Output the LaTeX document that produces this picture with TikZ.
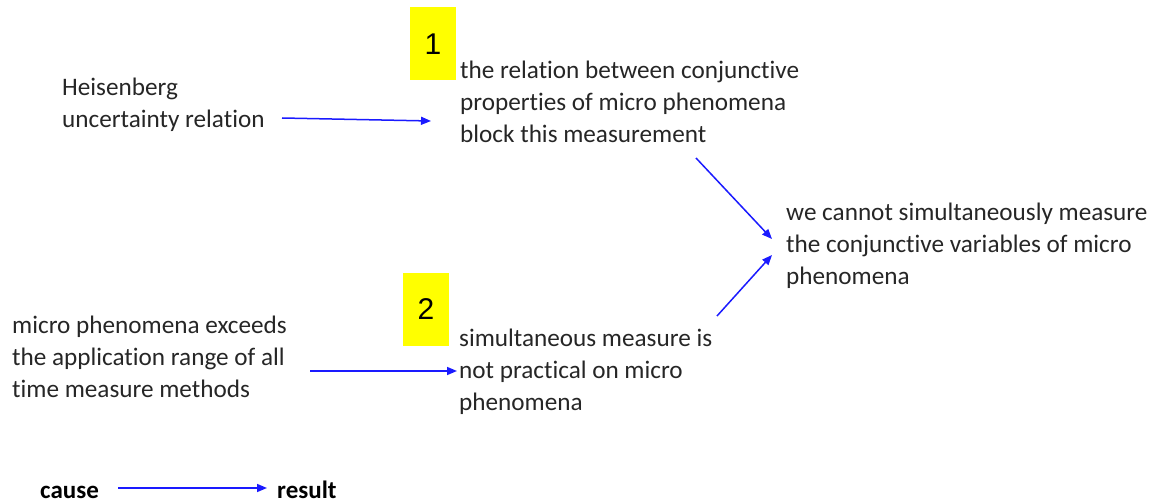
\documentclass[tikz,border=0pt]{standalone}
\usepackage{fontspec}
\setmainfont[Ligatures=CommonOff]{Carlito}
\newfontfamily\numfont{Liberation Sans}
\usetikzlibrary{arrows.meta}
\definecolor{txt}{HTML}{262626}
\definecolor{arrblue}{HTML}{1A1AFF}
\definecolor{hl}{HTML}{FFFF00}
\tikzset{
  lbl/.style={anchor=base west, inner sep=0pt, align=left, text=txt,
    font=\fontsize{25.2}{32}\selectfont},
  legend/.style={anchor=base west, inner sep=0pt, text=black,
    font=\fontsize{25}{30}\selectfont\bfseries},
  numbox/.style={fill=hl, minimum width=46pt, minimum height=73pt, inner sep=0pt,
    font=\fontsize{30}{30}\numfont, text=black},
  arr/.style={draw=arrblue, line width=1.5pt, -{Triangle[length=10pt,width=8pt]}}
}
\begin{document}
\begin{tikzpicture}[x=1pt,y=-1pt]
\useasboundingbox (0,0) rectangle (1159,502);
% highlighted numbers
\node[numbox] (b1) at (433,44) {1};
\node[numbox] (b2) at (426,309.5) {2};
% text blocks (base anchor = baseline of last line)
\node[lbl] (heis) at (62,128) {Heisenberg\\uncertainty relation};
\node[lbl] (rel) at (460,143) {the relation between conjunctive\\properties of micro phenomena\\block this measurement};
\node[lbl] (res) at (786,285) {we cannot simultaneously measure\\the conjunctive variables of micro\\phenomena};
\node[lbl] (exc) at (12,397) {micro phenomena exceeds\\the application range of all\\time measure methods};
\node[lbl] (sim) at (459,410) {simultaneous measure is\\not practical on micro\\phenomena};
\node[legend] (cause) at (40,498) {cause};
\node[legend] (result) at (277,498) {result};
% connector end points
\coordinate (a1s) at (282,118);
\coordinate (a1e) at (431,121);
\coordinate (a2s) at (310,371);
\coordinate (a2e) at (457,371);
\coordinate (a3s) at (696,158);
\coordinate (a3e) at (772,239);
\coordinate (a4s) at (717,316);
\coordinate (a4e) at (772,255);
\coordinate (lgs) at (118,488);
\coordinate (lge) at (267,488);
\draw[arr] (a1s) -- (a1e);
\draw[arr] (a2s) -- (a2e);
\draw[arr] (a3s) -- (a3e);
\draw[arr] (a4s) -- (a4e);
\draw[arr] (lgs) -- (lge);
\end{tikzpicture}
\end{document}
